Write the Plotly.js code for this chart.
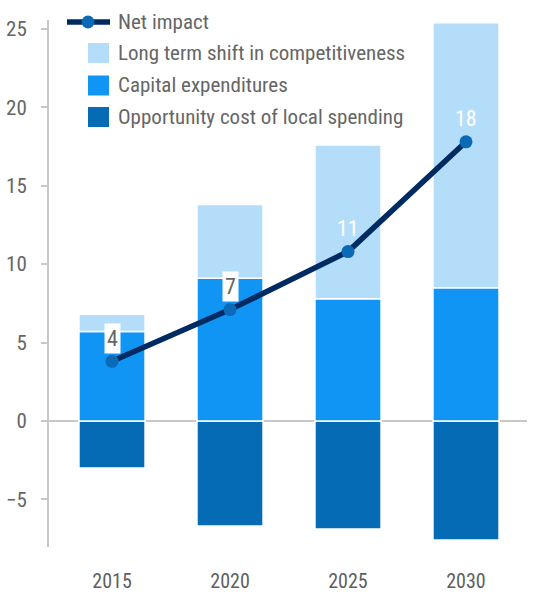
<!DOCTYPE html>
<html>
<head>
<meta charset="utf-8">
<script src="https://cdn.plot.ly/plotly-3.0.1.min.js"></script>
<style>html,body{margin:0;padding:0;background:#fff;}#chart{width:535px;height:595px;}</style>
</head>
<body>
<div id="chart"></div>
<script>
var years = ["2015", "2020", "2025", "2030"];
var opportunityCost = [-3.0, -6.7, -6.9, -7.6];
var capitalExpenditures = [5.7, 9.1, 7.8, 8.5];
var longTermShift = [1.1, 4.7, 9.8, 16.9];
var netImpact = [3.8, 7.1, 10.8, 17.8];
var netLabels = ["4", "7", "11", "18"];
var seriesNames = ["Net impact", "Long term shift in competitiveness", "Capital expenditures", "Opportunity cost of local spending"];

var FONT = "Roboto Condensed, Roboto, sans-serif";
var GREY = "#666666";
var C_OPP = "#066bb5", C_CAP = "#1095f5", C_LT = "#b4ddfa", C_LINE = "#002b62", C_MARK = "#0a6ab5";

var W = 535, H = 595, ML = 49, MR = 8, MT = 20, MB = 48;
function px(x) { return (x - ML) / (W - ML - MR); }
function py(y) { return (H - MB - y) / (H - MT - MB); }

var traces = [
  {type: "bar", name: seriesNames[3], x: years, y: opportunityCost,
   marker: {color: C_OPP, line: {color: "#ffffff", width: 1.5}}, width: 0.56},
  {type: "bar", name: seriesNames[2], x: years, y: capitalExpenditures,
   marker: {color: C_CAP, line: {color: "#ffffff", width: 1.5}}, width: 0.56},
  {type: "bar", name: seriesNames[1], x: years, y: longTermShift,
   marker: {color: C_LT, line: {color: "#ffffff", width: 1.5}}, width: 0.56},
  {type: "scatter", mode: "lines+markers", name: seriesNames[0], x: years, y: netImpact,
   line: {color: C_LINE, width: 5.5}, marker: {color: C_MARK, size: 13}}
];

var annotations = netImpact.map(function (v, i) {
  var boxed = i < 2;
  return {
    x: i, y: v, xref: "x", yref: "y", text: netLabels[i], showarrow: false,
    yshift: 23, font: {family: FONT, size: 22, color: boxed ? GREY : "#ffffff"},
    bgcolor: boxed ? "#ffffff" : "rgba(0,0,0,0)", borderpad: 2
  };
});

// custom legend (paper coordinates)
var shapes = [];
var rowY = [22, 53, 85.5, 117];
var swatch = [null, C_LT, C_CAP, C_OPP];
shapes.push({type: "line", xref: "paper", yref: "paper", x0: px(67), x1: px(110), y0: py(rowY[0]), y1: py(rowY[0]),
             line: {color: C_LINE, width: 5.5}});
shapes.push({type: "circle", xref: "paper", yref: "paper", x0: px(81.5), x1: px(94.5), y0: py(rowY[0] + 6.5), y1: py(rowY[0] - 6.5),
             fillcolor: C_MARK, line: {width: 0}});
for (var k = 1; k < 4; k++) {
  shapes.push({type: "rect", xref: "paper", yref: "paper", x0: px(88), x1: px(109), y0: py(rowY[k] + 10), y1: py(rowY[k] - 10),
               fillcolor: swatch[k], line: {width: 0}});
}
for (var j = 0; j < 4; j++) {
  annotations.push({xref: "paper", yref: "paper", x: px(116), y: py(rowY[j]), xanchor: "left", yanchor: "middle",
                    text: seriesNames[j], showarrow: false, font: {family: FONT, size: 21, color: GREY}});
}

var layout = {
  width: W, height: H,
  margin: {l: ML, r: MR, t: MT, b: MB},
  paper_bgcolor: "#ffffff", plot_bgcolor: "#ffffff",
  barmode: "relative",
  font: {family: FONT, size: 20, color: GREY},
  showlegend: false,
  xaxis: {type: "category", range: [-0.534, 3.517], showgrid: false, zeroline: false, showline: false,
          ticks: "outside", ticklen: 16, tickcolor: "rgba(0,0,0,0)",
          tickfont: {family: FONT, size: 20, color: "#5f5f5f"}, fixedrange: true},
  yaxis: {range: [-8.04, 25.57], dtick: 5, tick0: 0, showgrid: false,
          zeroline: true, zerolinecolor: "#c8c8c8", zerolinewidth: 2,
          showline: true, linecolor: "#c8c8c8", linewidth: 2,
          ticks: "outside", ticklen: 6, tickcolor: "#c8c8c8", tickwidth: 2,
          ticklabelstandoff: 10,
          tickfont: {family: FONT, size: 21, color: GREY}, fixedrange: true},
  shapes: shapes,
  annotations: annotations
};

Plotly.newPlot("chart", traces, layout, {displayModeBar: false, staticPlot: true});
</script>
</body>
</html>
